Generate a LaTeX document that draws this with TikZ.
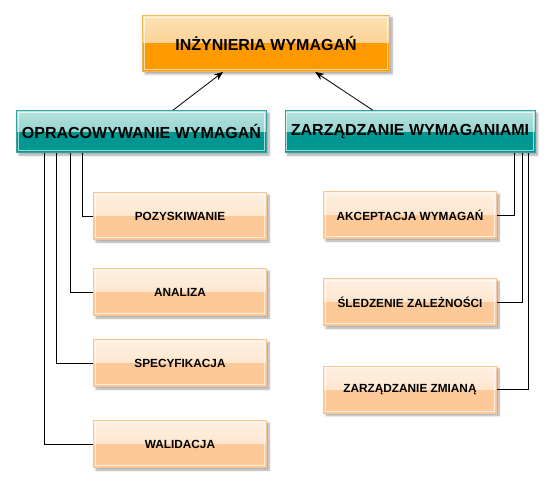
\documentclass[tikz,border=0pt]{standalone}
\usepackage{fontspec}
\setmainfont{Liberation Sans}
\usetikzlibrary{shadows.blur,arrows.meta}
\definecolor{orBorder}{HTML}{F6B656}
\definecolor{orTop}{HTML}{FDE2B6}
\definecolor{orMid}{HTML}{FAC274}
\definecolor{orBot}{HTML}{FF9900}
\definecolor{teBorder}{HTML}{2EA59E}
\definecolor{teTop}{HTML}{B5E2DE}
\definecolor{teMid}{HTML}{7CC8C2}
\definecolor{teBot}{HTML}{009692}
\definecolor{chBorder}{HTML}{FAC590}
\definecolor{chTop}{HTML}{FEF0E2}
\definecolor{chMid}{HTML}{FDDCBB}
\definecolor{chBot}{HTML}{FDC998}
\tikzset{
  gbox/.style n args={4}{draw=#1, line width=0.8pt, inner sep=0pt,
    text=black, font=\bfseries,
    blur shadow={shadow xshift=2.5pt, shadow yshift=-2.5pt, shadow blur steps=6, shadow opacity=35},
    path picture={
      \fill[top color=#2, bottom color=#3] (path picture bounding box.north west) rectangle (path picture bounding box.east);
      \fill[#4] (path picture bounding box.west) rectangle (path picture bounding box.south east);
      \draw[white, opacity=0.65, line width=0.8pt] ([shift={(1.8pt,-1.8pt)}]path picture bounding box.north west) rectangle ([shift={(-1.8pt,1.8pt)}]path picture bounding box.south east);
    }},
  topbox/.style={gbox={orBorder}{orTop}{orMid}{orBot}, minimum width=247pt, minimum height=56pt, font=\bfseries\fontsize{16}{18}\selectfont},
  midbox/.style={gbox={teBorder}{teTop}{teMid}{teBot}, minimum width=250pt, minimum height=42pt, font=\bfseries\fontsize{16}{18}\selectfont},
  childbox/.style={gbox={chBorder}{chTop}{chMid}{chBot}, minimum width=173pt, minimum height=47pt, font=\bfseries\fontsize{11.8}{13}\selectfont},
  conn/.style={draw=black, line width=0.9pt},
  arr/.style={draw=black, line width=0.8pt, -{Stealth[length=9pt,width=7pt]}}
}
\begin{document}
\begin{tikzpicture}[x=1pt,y=-1pt]
\useasboundingbox (0,0) rectangle (551,484);
\node[topbox] (top) at (266,43.5) {INŻYNIERIA WYMAGAŃ};
\node[midbox] (opr) at (141.5,131.5) {OPRACOWYWANIE WYMAGAŃ};
\node[midbox] (zarz) at (410,131.5) {ZARZĄDZANIE WYMAGANIAMI};

\node[childbox] (pozy) at (180,216) {POZYSKIWANIE};
\node[childbox] (anal) at (180,292) {ANALIZA};
\node[childbox] (spec) at (180,363) {SPECYFIKACJA};
\node[childbox] (wali) at (180,444) {WALIDACJA};

\node[childbox] (akce) at (410,215) {AKCEPTACJA WYMAGAŃ};
\node[childbox] (sled) at (410,302) {ŚLEDZENIE ZALEŻNOŚCI};
\node[childbox] (zmia) at (410,389.5) {ZARZĄDZANIE ZMIANĄ};

\draw[arr] ([xshift=157pt]opr.north west) -- ([xshift=81pt]top.south west);
\draw[arr] ([xshift=88pt]zarz.north west) -- ([xshift=173pt]top.south west);

\draw[conn] ([xshift=66pt]opr.south west) |- (pozy.west);
\draw[conn] ([xshift=54pt]opr.south west) |- (anal.west);
\draw[conn] ([xshift=40pt]opr.south west) |- (spec.west);
\draw[conn] ([xshift=28pt]opr.south west) |- (wali.west);

\draw[conn] ([xshift=-21pt]zarz.south east) |- (akce.east);
\draw[conn] ([xshift=-13pt]zarz.south east) |- (sled.east);
\draw[conn] ([xshift=-7pt]zarz.south east) |- (zmia.east);
\end{tikzpicture}
\end{document}
